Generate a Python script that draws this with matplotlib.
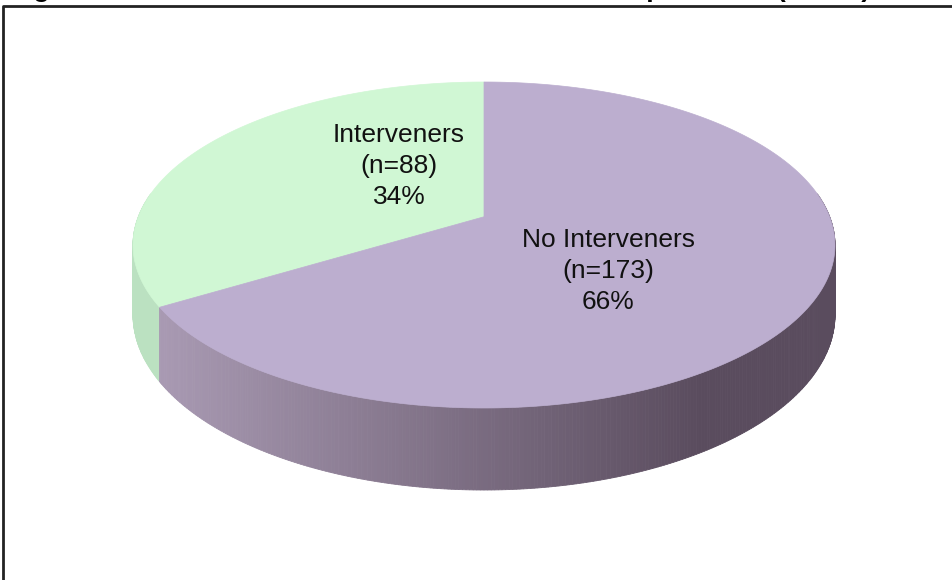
import numpy as np
import matplotlib.pyplot as plt
from matplotlib.patches import Polygon

# ---------------- data ----------------
labels = ['Interveners', 'No Interveners']
counts = [88, 173]
percents = [34, 66]
title = 'Figure 4: Use of Interveners in CMC Research Sample Cases (n=261)'

top_colors = ['#d0f7d4', '#bcaecf']
side_green = '#bbe1c1'
side_purple_light = np.array([0xa8, 0x99, 0xb2]) / 255.0
side_purple_dark = np.array([0x5a, 0x4c, 0x5e]) / 255.0

plt.rcParams['font.family'] = ['Liberation Sans', 'DejaVu Sans']

# ---------------- 3d pie geometry ----------------
elev = np.radians(30)
dist = 5.0
box_left, box_right, box_top, box_bottom = 133, 835, 82, 408
depth_px = 82


def proj(theta, z):
    den = dist + np.sin(theta) * np.cos(elev)
    x = np.cos(theta) / den
    y = (np.sin(theta) * np.sin(elev) + z * np.cos(elev)) / den
    return x, y


tt = np.linspace(0, 2 * np.pi, 720)
ex, ey = proj(tt, 0)
sx = (box_right - box_left) / (ex.max() - ex.min())
sy = (box_bottom - box_top) / (ey.max() - ey.min())
x0 = box_left - ex.min() * sx
y0 = box_top + ey.max() * sy
h = depth_px * (dist - np.cos(elev)) / (sy * np.cos(elev))


def to_px(theta, z):
    x, y = proj(theta, z)
    return x0 + sx * x, y0 - sy * y


# slice angles, counter clockwise from 12 o'clock
fracs = np.array(counts) / sum(counts)
starts = np.pi / 2 + 2 * np.pi * np.concatenate([[0], np.cumsum(fracs)[:-1]])
ends = starts + 2 * np.pi * fracs

fig = plt.figure(figsize=(9.52, 5.8), dpi=100)
ax = fig.add_axes([0, 0, 1, 1])
ax.set_xlim(0, 952)
ax.set_ylim(580, 0)
ax.axis('off')

# side wall, painted back to front
n_strip = 400
th = np.linspace(np.pi - 0.15, 2 * np.pi + 0.15, n_strip + 1)
strips = []
for i in range(n_strip):
    a, b = th[i], th[i + 1]
    mid = (a + b) / 2
    xa, ya = to_px(a, 0)
    xb, yb = to_px(b, 0)
    xa2, ya2 = to_px(a, -h)
    xb2, yb2 = to_px(b, -h)
    m = (mid - np.pi / 2) % (2 * np.pi)
    if m < ends[0] - starts[0]:
        col = side_green
    else:
        xm = (xa + xb) / 2
        f = np.clip((xm - 165) / (700 - 165), 0, 1)
        col = tuple(side_purple_light * (1 - f) + side_purple_dark * f)
    strips.append((np.sin(mid), [(xa, ya), (xb, yb), (xb2, yb2), (xa2, ya2)], col))
strips.sort(key=lambda s: -s[0])
for _, pts, col in strips:
    ax.add_patch(Polygon(pts, closed=True, facecolor=col, edgecolor=col, linewidth=0.6))

# top faces
for s, e, col in zip(starts, ends, top_colors):
    t = np.linspace(s, e, 300)
    px, py = to_px(t, 0)
    pts = [(x0, y0)] + list(zip(px, py))
    ax.add_patch(Polygon(pts, closed=True, facecolor=col, edgecolor=col, linewidth=0.5))

# labels
label_pos = [(399, 166), (608, 271)]
for lab, n, p, (lx, ly) in zip(labels, counts, percents, label_pos):
    ax.text(lx, ly, '%s\n(n=%d)\n%d%%' % (lab, n, p), ha='center', va='center',
            fontsize=19, linespacing=1.38, color='#111111')

# frame and clipped title
ax.plot([3, 3, 952], [580, 6, 6], color='#222222', linewidth=2, solid_capstyle='butt')
fig.text(10 / 952, 1 + 2.5 / 580, title, ha='left', va='baseline',
         fontsize=19, fontweight='bold')

fig.savefig('out.png', dpi=100)
